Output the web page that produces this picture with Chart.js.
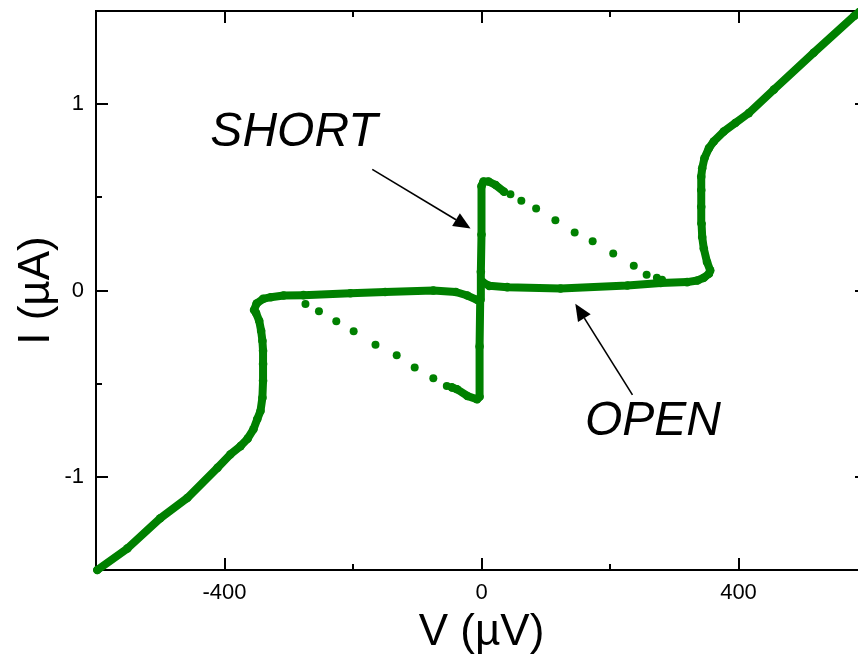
<!DOCTYPE html>
<html>
<head>
<meta charset="utf-8">
<script src="https://cdn.jsdelivr.net/npm/chart.js@4.4.1/dist/chart.umd.min.js"></script>
<style>
  html, body { margin: 0; padding: 0; background: #fff; overflow: hidden; }
  #wrap { width: 858px; height: 659px; overflow: hidden; }
</style>
</head>
<body>
<div id="wrap"><canvas id="iv" width="880" height="659"></canvas></div>
<script>
// I-V sweep, V in µV, I in µA
const negBranchV = [-598, -551, -500, -458, -411, -391, -375, -364, -355, -349, -344, -341, -340, -340, -340, -341, -343, -346, -351, -354, -350, -340, -328, -308, -277, -204, -150, -75, -40, -22, -7, -3];
const negBranchI = [-1.50, -1.384, -1.222, -1.114, -0.952, -0.88, -0.835, -0.795, -0.745, -0.69, -0.647, -0.575, -0.485, -0.394, -0.323, -0.27, -0.216, -0.162, -0.12, -0.105, -0.07, -0.045, -0.036, -0.027, -0.025, -0.015, -0.008, 0.0, -0.008, -0.027, -0.05, -0.054];

const zeroBranchV = [-46, -38, -22, -7, -3, -3, -2, -1, 0, 0, 3, 11, 22, 35];
const zeroBranchI = [-0.52, -0.53, -0.566, -0.584, -0.57, -0.3, -0.05, 0.1, 0.3, 0.56, 0.585, 0.585, 0.566, 0.53];

const posBranchV = [2, 12, 40, 123, 227, 279, 320, 336, 346, 354, 356, 351, 346, 343.5, 342.5, 342, 342, 342, 343.5, 347, 354, 361.5, 377, 395, 416, 455, 517, 580, 588];
const posBranchI = [0.045, 0.025, 0.018, 0.011, 0.027, 0.04, 0.045, 0.054, 0.068, 0.09, 0.108, 0.153, 0.225, 0.287, 0.36, 0.449, 0.539, 0.611, 0.656, 0.71, 0.764, 0.8, 0.853, 0.899, 0.952, 1.078, 1.276, 1.473, 1.495];

// sparse points (switching / retrapping)
const upperJumpV = [45, 62, 85, 115, 145, 173, 205, 237, 257, 273, 281];
const upperJumpI = [0.517, 0.481, 0.44, 0.377, 0.311, 0.264, 0.198, 0.133, 0.085, 0.068, 0.058];
const lowerJumpV = [-274, -253, -226, -199, -165, -132, -104, -75, -54];
const lowerJumpI = [-0.072, -0.111, -0.165, -0.219, -0.291, -0.347, -0.413, -0.471, -0.512];

const xTickLabels = [-400, 0, 400];
const yTickLabels = [-1, 0, 1];

const GREEN = '#008000';
const FONT = '"Liberation Sans", Arial, sans-serif';

const pts = (xs, ys) => xs.map((v, i) => ({ x: v, y: ys[i] }));

function branch(xs, ys) {
    return {
        data: pts(xs, ys),
        showLine: true,
        borderColor: GREEN,
        borderWidth: 8,
        borderJoinStyle: 'round',
        borderCapStyle: 'round',
        pointRadius: 4.3,
        pointBackgroundColor: GREEN,
        pointBorderWidth: 0,
        clip: false
    };
}

function dots(xs, ys) {
    return {
        data: pts(xs, ys),
        showLine: false,
        pointRadius: 4,
        pointBackgroundColor: GREEN,
        pointBorderWidth: 0,
        clip: false
    };
}

// labels and arrows, placed in data units
const notes = [
    { text: 'SHORT', v: -422, i: 0.774 },
    { text: 'OPEN', v: 161, i: -0.776 }
];
const arrows = [
    { from: [-170, 0.65], to: [-17, 0.333] },
    { from: [235, -0.56], to: [146, -0.071] }
];

const framePlugin = {
    id: 'frame',
    beforeDatasetsDraw(chart) {
        const { ctx, chartArea: a, scales: { x, y } } = chart;
        ctx.save();
        ctx.strokeStyle = '#000';
        ctx.lineWidth = 2;
        ctx.strokeRect(a.left, a.top, a.right - a.left, a.bottom - a.top);
        ctx.beginPath();
        x.ticks.forEach(t => {
            const px = Math.round(x.getPixelForValue(t.value));
            const len = Math.abs(t.value % 400) < 1e-9 ? 12 : 6;
            ctx.moveTo(px, a.bottom); ctx.lineTo(px, a.bottom - len);
            ctx.moveTo(px, a.top); ctx.lineTo(px, a.top + len);
        });
        y.ticks.forEach(t => {
            const py = Math.round(y.getPixelForValue(t.value));
            const len = Math.abs(t.value - Math.round(t.value)) < 1e-9 ? 12 : 6;
            ctx.moveTo(a.left, py); ctx.lineTo(a.left + len, py);
            ctx.moveTo(a.right, py); ctx.lineTo(a.right - len, py);
        });
        ctx.stroke();
        ctx.restore();
    },
    afterDatasetsDraw(chart) {
        const { ctx, scales: { x, y } } = chart;
        ctx.save();
        ctx.fillStyle = '#000';
        ctx.strokeStyle = '#000';
        ctx.font = 'italic 48px ' + FONT;
        ctx.textBaseline = 'alphabetic';
        notes.forEach(n => {
            ctx.fillText(n.text, x.getPixelForValue(n.v), y.getPixelForValue(n.i));
        });
        ctx.lineWidth = 1.6;
        arrows.forEach(ar => {
            const x0 = x.getPixelForValue(ar.from[0]), y0 = y.getPixelForValue(ar.from[1]);
            const x1 = x.getPixelForValue(ar.to[0]), y1 = y.getPixelForValue(ar.to[1]);
            const ang = Math.atan2(y1 - y0, x1 - x0);
            const headLen = 17, headHalf = 7.5;
            const bx = x1 - headLen * Math.cos(ang), by = y1 - headLen * Math.sin(ang);
            ctx.beginPath();
            ctx.moveTo(x0, y0);
            ctx.lineTo(bx, by);
            ctx.stroke();
            ctx.beginPath();
            ctx.moveTo(x1, y1);
            ctx.lineTo(bx + headHalf * Math.sin(ang), by - headHalf * Math.cos(ang));
            ctx.lineTo(bx - headHalf * Math.sin(ang), by + headHalf * Math.cos(ang));
            ctx.closePath();
            ctx.fill();
        });
        ctx.restore();
    }
};

Chart.defaults.font.family = FONT;
Chart.defaults.color = '#000';

new Chart(document.getElementById('iv'), {
    type: 'scatter',
    data: {
        datasets: [
            branch(negBranchV, negBranchI),
            branch(zeroBranchV, zeroBranchI),
            branch(posBranchV, posBranchI),
            dots(upperJumpV, upperJumpI),
            dots(lowerJumpV, lowerJumpI)
        ]
    },
    options: {
        responsive: false,
        animation: false,
        layout: { padding: { left: 0, top: 11, right: 13, bottom: 0 } },
        plugins: {
            legend: { display: false },
            tooltip: { enabled: false }
        },
        scales: {
            x: {
                type: 'linear',
                min: -600,
                max: 600,
                border: { display: false },
                grid: { drawOnChartArea: false, drawTicks: false },
                ticks: {
                    stepSize: 200,
                    autoSkip: false,
                    maxRotation: 0,
                    padding: 10,
                    font: { size: 22 },
                    callback: v => xTickLabels.includes(v) ? String(v) : ''
                },
                title: {
                    display: true,
                    text: 'V (µV)',
                    font: { size: 44 },
                    padding: { top: 0, bottom: 0 }
                },
                afterFit(scale) {
                    scale.height = 89;
                    scale.paddingLeft = 0;
                    scale.paddingRight = 0;
                }
            },
            y: {
                type: 'linear',
                min: -1.5,
                max: 1.5,
                border: { display: false },
                grid: { drawOnChartArea: false, drawTicks: false },
                ticks: {
                    stepSize: 0.5,
                    autoSkip: false,
                    padding: 12,
                    font: { size: 22 },
                    callback: v => yTickLabels.some(t => Math.abs(t - v) < 1e-9) ? String(Math.round(v)) : ''
                },
                title: {
                    display: true,
                    text: 'I (µA)',
                    font: { size: 44 },
                    padding: { top: 10, bottom: 0 }
                },
                afterFit(scale) {
                    scale.width = 96;
                    scale.paddingTop = 0;
                    scale.paddingBottom = 0;
                }
            }
        }
    },
    plugins: [framePlugin]
});
</script>
</body>
</html>
